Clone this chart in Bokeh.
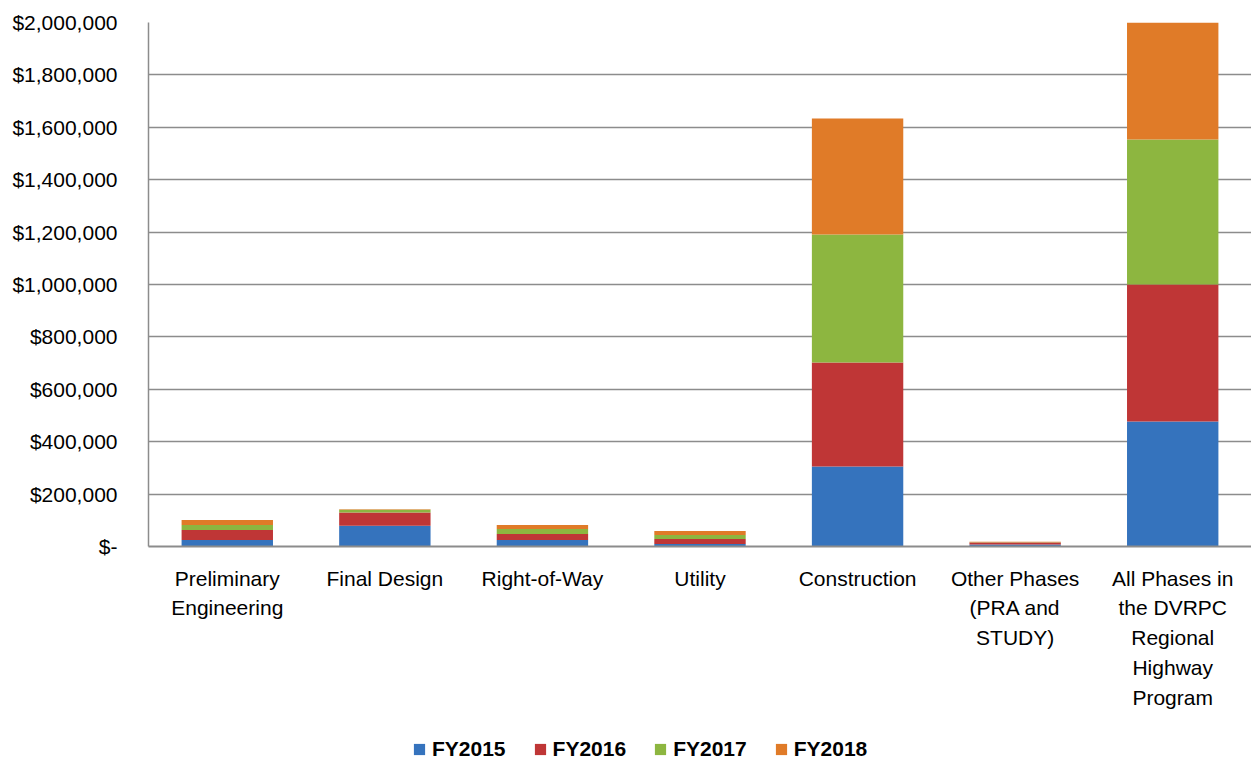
from bokeh.plotting import figure
from bokeh.layouts import column
from bokeh.models import (ColumnDataSource, FactorRange, Range1d, NumeralTickFormatter,
                          FixedTicker, Legend, LegendItem)
from bokeh.embed import file_html
from bokeh.resources import INLINE

categories = ["Preliminary\nEngineering", "Final Design", "Right-of-Way", "Utility",
              "Construction", "Other Phases\n(PRA and\nSTUDY)",
              "All Phases in\nthe DVRPC\nRegional\nHighway\nProgram"]
series = ["FY2015", "FY2016", "FY2017", "FY2018"]
fy2015 = [25000, 79000, 25000, 10000, 305000, 8000, 477000]
fy2016 = [38000, 51000, 23000, 19000, 397000, 7000, 523000]
fy2017 = [19000, 10000, 19000, 15000, 489000, 1000, 553000]
fy2018 = [19000, 2000, 15000, 15000, 443000, 2000, 447000]
colors = ["#3573BD", "#BF3636", "#8DB640", "#E07B28"]

source = ColumnDataSource(dict(cat=categories, FY2015=fy2015, FY2016=fy2016,
                               FY2017=fy2017, FY2018=fy2018))

FONT = "Liberation Sans"
p = figure(x_range=FactorRange(*categories, range_padding=0), y_range=Range1d(0, 2000000),
           width=1251, height=738, output_backend="svg", toolbar_location=None,
           min_border_left=148, min_border_top=22, min_border_right=0, min_border_bottom=192)
p.outline_line_color = None

rs = p.vbar_stack(series, x="cat", width=0.58, source=source, color=colors, line_color=None)

p.yaxis.ticker = FixedTicker(ticks=list(range(0, 2000001, 200000)))
p.yaxis.formatter = NumeralTickFormatter(format="$0,0")
p.yaxis.major_label_overrides = {0: "$-"}
p.yaxis.major_label_text_font = FONT
p.yaxis.major_label_text_font_size = "21px"
p.yaxis.major_label_text_color = "#000000"
p.yaxis.major_label_standoff = 31
p.yaxis.major_tick_out = 0
p.yaxis.major_tick_in = 0
p.yaxis.minor_tick_line_color = None
p.yaxis.axis_line_color = "#8C8C8C"
p.yaxis.axis_line_width = 1.5

p.xaxis.major_label_text_font = FONT
p.xaxis.major_label_text_font_size = "21px"
p.xaxis.major_label_text_color = "#000000"
p.xaxis.major_label_text_line_height = 1.3
p.xaxis.major_label_standoff = 20
p.xaxis.major_tick_out = 0
p.xaxis.major_tick_in = 0
p.xaxis.axis_line_color = "#8C8C8C"
p.xaxis.axis_line_width = 2

p.xgrid.grid_line_color = None
p.ygrid.grid_line_color = "#8C8C8C"
p.ygrid.grid_line_width = 1.5

# separate strip for the legend (legend renderers hold one off-screen bar each)
lg = figure(width=1251, height=23, output_backend="svg", toolbar_location=None,
            x_range=Range1d(0, 1), y_range=Range1d(0, 1),
            min_border=0, outline_line_color=None)
lg.axis.visible = False
lg.grid.visible = False
lrs = [lg.vbar(x=[50], top=[1], width=0.1, color=c, line_color=None) for c in colors]
legend = Legend(items=[LegendItem(label=s, renderers=[r]) for s, r in zip(series, lrs)],
                orientation="horizontal", location=(264, 0),
                label_text_font=FONT, label_text_font_style="bold",
                label_text_color="#000000",
                label_text_font_size="21px", glyph_width=14, glyph_height=14,
                label_standoff=6, spacing=27, border_line_color=None,
                background_fill_alpha=0, padding=0, margin=0)
lg.add_layout(legend, "center")

layout = column(p, lg, spacing=0)
open("out.html", "w").write(file_html(layout, INLINE))
